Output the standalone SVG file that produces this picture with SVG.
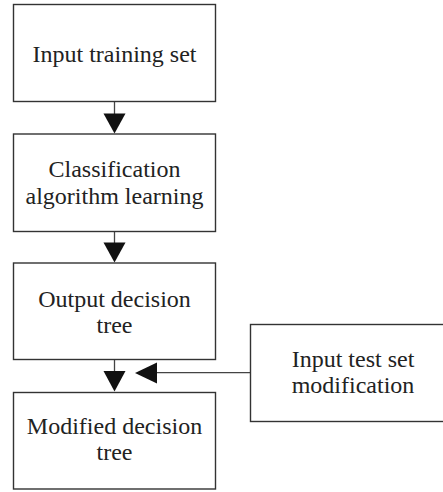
<svg xmlns="http://www.w3.org/2000/svg" width="443" height="492" viewBox="0 0 443 492">
<style>
.box{fill:#fff;stroke:#333;stroke-width:1.4}
.t{font-family:"Liberation Serif","Times New Roman",serif;font-size:24px;fill:#222;text-anchor:middle}
.ln{stroke:#444;stroke-width:1.3;fill:none}
.ah{fill:#111}
</style>
<rect width="443" height="492" fill="#fff"/>
<g id="connectors">
<line class="ln" x1="114.5" y1="101.5" x2="114.5" y2="118"/>
<polygon class="ah" points="103.5,113.5 125.5,113.5 114.5,133.5"/>
<line class="ln" x1="114.5" y1="231.5" x2="114.5" y2="248"/>
<polygon class="ah" points="103.5,242.5 125.5,242.5 114.5,262.5"/>
<line class="ln" x1="114.5" y1="359.5" x2="114.5" y2="376"/>
<polygon class="ah" points="103.5,371 125.5,371 114.5,391.5"/>
<line class="ln" x1="250.5" y1="372.7" x2="152" y2="372.7"/>
<polygon class="ah" points="135,373 157,362.5 157,383.5"/>
</g>
<g id="input-training-set">
<rect class="box" x="13.5" y="4.5" width="202" height="97"/>
<text class="t" x="114.5" y="62">Input training set</text>
</g>
<g id="classification-algorithm-learning">
<rect class="box" x="13.5" y="134" width="202" height="97.5"/>
<text class="t" x="114.5" y="177">Classification</text>
<text class="t" x="114.5" y="203.5">algorithm learning</text>
</g>
<g id="output-decision-tree">
<rect class="box" x="13.5" y="263" width="202" height="96.5"/>
<text class="t" x="114.5" y="306.5">Output decision</text>
<text class="t" x="114.5" y="333">tree</text>
</g>
<g id="modified-decision-tree">
<rect class="box" x="13.5" y="392.5" width="202" height="96.5"/>
<text class="t" x="114.5" y="433.5">Modified decision</text>
<text class="t" x="114.5" y="460">tree</text>
</g>
<g id="input-test-set-modification">
<rect class="box" x="250.5" y="324.5" width="210" height="97"/>
<text class="t" x="353" y="367">Input test set</text>
<text class="t" x="353" y="393">modification</text>
</g>
</svg>
